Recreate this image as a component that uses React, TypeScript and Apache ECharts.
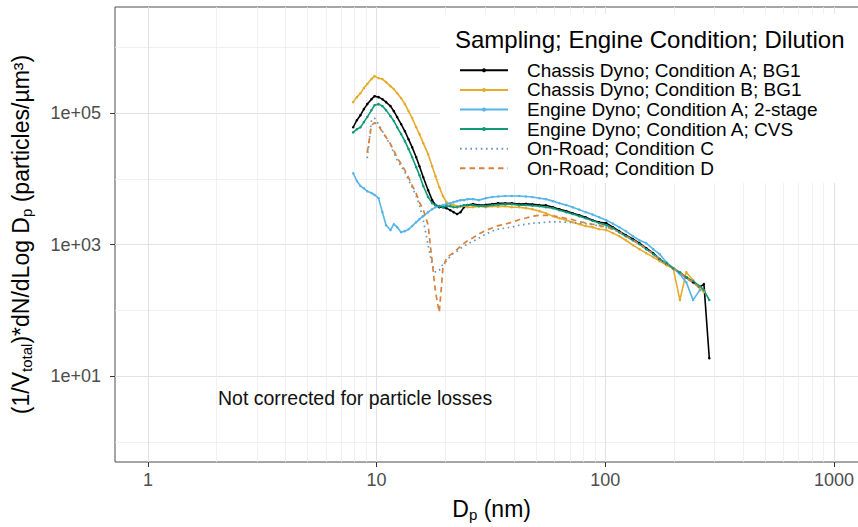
import React, { useEffect, useRef } from 'react';
import * as echarts from 'echarts';

// particle diameter bins (nm)
const diameters = [
  7.9, 8.2, 8.5, 8.8, 9.1, 9.5, 9.8, 10.2, 10.6, 11.0, 11.5, 11.9, 12.3, 12.8, 13.3, 13.8, 14.3, 14.9,
  15.4, 16.0, 16.8, 17.5, 18.1, 18.8, 19.5, 20.2, 21.0, 21.7, 22.5, 23.3, 24.1, 25.0, 26.4, 28.0, 30.0,
  32.0, 34.0, 36.5, 39.0, 42.0, 45.0, 48.0, 51.5, 55.0, 59.0, 63.0, 67.5, 72.0, 77.0, 82.0, 88.0, 94.0,
  101, 108, 115, 123, 132, 141, 151, 162, 173, 185, 198, 212, 226, 242, 259, 270, 285,
];

const chassisA = [
  61000, 78000, 93000, 115000, 137000, 163000, 181000, 175000, 163000, 147000, 128000, 107000, 87000,
  68000, 53000, 40000, 30400, 21400, 15600, 10600, 6750, 4760, 4000, 3720, 3720, 3600, 3350, 3130, 2920,
  3130, 3720, 4000, 4140, 4000, 4050, 4140, 4280, 4250, 4280, 4140, 4180, 4100, 4000, 3980, 3720, 3470,
  3240, 3020, 2810, 2620, 2360, 2200, 2130, 1850, 1610, 1400, 1220, 1060, 887, 745, 604, 507, 440, 370,
  321, 270, 226, 252, 18.9,
];

const chassisB = [
  147000, 175000, 201000, 240000, 276000, 329000, 365000, 340000, 329000, 296000, 257000, 232000, 201000,
  169000, 137000, 107000, 84000, 61000, 48000, 35000, 23800, 15600, 11000, 7500, 5500, 4440, 4140, 4000,
  3860, 3860, 3900, 3720, 3720, 3860, 3720, 3860, 3800, 3860, 3720, 3720, 3600, 3470, 3240, 3020, 2720,
  2530, 2360, 2200, 2050, 1920, 1850, 1720, 1670, 1500, 1350, 1170, 985, 856, 745, 647, 563, 489, 440,
  144, 383, 289, 219, 190, null,
];

const engine2Stage = [
  12200, 9300, 7800, 7200, 6500, 6100, 5700, 5100, 3130, 1980, 1670, 2050, 1850, 1550, 1610, 1720, 1920,
  2200, 2450, 2720, 3130, 3470, 3720, 3860, 4000, 4140, 4280, 4440, 4600, 4760, 4760, 4930, 4930, 4760,
  5100, 5300, 5400, 5500, 5500, 5500, 5400, 5300, 5100, 4930, 4600, 4280, 4000, 3720, 3410, 3130, 2870,
  2620, 2360, 2090, 1850, 1610, 1350, 1170, 1060, 856, 719, 543, 440, 357, 270, 144, 204, null, null,
];

const engineCVS = [
  51000, 57000, 61000, 73000, 87000, 111000, 132000, 137000, 128000, 111000, 90000, 76000, 61000, 48000,
  37500, 28400, 21400, 15100, 11400, 7800, 5300, 4280, 4000, 3860, 3720, 3860, 3860, 3720, 3720, 3860,
  4000, 4000, 4000, 3860, 3860, 4000, 4070, 4140, 4140, 4000, 4000, 3930, 3860, 3720, 3600, 3350, 3130,
  2920, 2720, 2530, 2320, 2130, 1980, 1790, 1550, 1350, 1170, 1020, 856, 719, 604, 525, 440, 383, 321,
  280, 235, 204, 144,
];

const onRoadC = [
  null, null, null, null, 20700, 78000, 84000, 68000, 53000, 43000, 32600, 24700, 19300, 15600, 12700,
  9600, 7500, 5500, 4000, 2360, 985, 489, 383, 411, 507, 563, 670, 745, 799, 887, 951, 1020, 1130, 1260,
  1450, 1610, 1720, 1790, 1850, 1980, 2050, 2130, 2150, 2200, 2230, 2230, 2200, 2170, 2130, 2090, 2020,
  1920, 1820, 1720, 1550, 1350, 1170, 1020, 856, 719, 604, 507, 440, 370, 310, 261, 219, null, null,
];

const onRoadD = [
  null, null, null, null, 25000, 65000, 72000, 64000, 52000, 43000, 34000, 27000, 21000, 17000, 13500,
  10500, 8000, 6000, 4400, 3400, 2000, 550, 190, 94, 440, 630, 700, 760, 850, 950, 1050, 1150, 1280,
  1450, 1650, 1800, 1950, 2050, 2200, 2400, 2550, 2700, 2800, 2800, 2750, 2650, 2500, 2400, 2250, 2150,
  2050, 1950, 1850, 1720, 1560, 1360, 1180, 1030, 870, 730, 610, 515, 445, 375, 315, 265, 222, null, null,
];

const seriesNames = [
  'Chassis Dyno; Condition A; BG1',
  'Chassis Dyno; Condition B; BG1',
  'Engine Dyno; Condition A; 2-stage',
  'Engine Dyno; Condition A; CVS',
  'On-Road; Condition C',
  'On-Road; Condition D',
];
const seriesValues = [chassisA, chassisB, engine2Stage, engineCVS, onRoadC, onRoadD];
const seriesColors = ['#000000', '#E6AA2C', '#56B4E9', '#12997A', '#6293C2', '#D9823B'];
const seriesLineTypes: any[] = ['solid', 'solid', 'solid', 'solid', [1.6, 3.6], [5.5, 4]];
const seriesHasPoints = [true, true, true, true, false, false];

const xMajorTicks = [1, 10, 100, 1000];
const xTickLabels = ['1', '10', '100', '1000'];
const xMinorTicks = [2, 3, 4, 5, 6, 7, 8, 9, 20, 30, 40, 50, 60, 70, 80, 90, 200, 300, 400, 500, 600, 700, 800, 900];
const yMajorTicks = [10, 1000, 100000];
const yTickLabels = ['1e+01', '1e+03', '1e+05'];
const yMinorTicks = [1, 100, 10000, 1000000];

const FONT = "'Liberation Sans', Arial, Helvetica, sans-serif";
const X_MIN = 0.718;
const X_MAX = 1413;
const Y_MIN = 0.499;
const Y_MAX = 4.1e6;

const pickLabel = (ticks: number[], labels: string[], v: number) => {
  const i = ticks.findIndex((t) => Math.abs(Math.log10(t) - Math.log10(v)) < 0.01);
  return i >= 0 ? labels[i] : '';
};

const subRich = {
  sub: { fontSize: 15, fontFamily: FONT, color: '#000', verticalAlign: 'bottom', lineHeight: 14 },
};

const App: React.FC = () => {
  const ref = useRef<HTMLDivElement>(null);

  useEffect(() => {
    if (!ref.current) return;
    const chart = echarts.init(ref.current, undefined, { renderer: 'svg' });

    chart.setOption({
      animation: false,
      textStyle: { fontFamily: FONT },
      grid: {
        left: 115,
        top: 7,
        right: -10.3,
        bottom: 65,
        show: true,
        borderColor: '#4d4d4d',
        borderWidth: 1,
        backgroundColor: 'transparent',
        containLabel: false,
        outerBoundsMode: 'none',
      },
      title: {
        text: 'Sampling; Engine Condition; Dilution',
        left: 455,
        top: 27,
        padding: 0,
        textStyle: { fontSize: 24, fontWeight: 'normal', color: '#000', fontFamily: FONT, lineHeight: 24 },
      },
      legend: {
        orient: 'vertical',
        left: 459,
        top: 60.5,
        padding: 0,
        itemWidth: 48,
        itemHeight: 5,
        itemGap: 0,
        data: seriesNames.map((name, k) =>
          seriesHasPoints[k] ? name : { name, itemStyle: { opacity: 0 } }
        ),
        formatter: (name: string) => `{gap| }${name}`,
        textStyle: {
          fontSize: 19,
          color: '#000',
          fontFamily: FONT,
          lineHeight: 19.6,
          rich: { gap: { width: 14 } },
        },
      },
      graphic: [
        {
          type: 'rect',
          z: 1,
          silent: true,
          shape: { x: 440, y: 14, width: 430, height: 169 },
          style: { fill: '#ffffff' },
        },
        {
          type: 'text',
          z: 5,
          x: 218,
          y: 398,
          style: {
            text: 'Not corrected for particle losses',
            fontSize: 19.5,
            fontFamily: FONT,
            fill: '#111',
            verticalAlign: 'middle',
          },
        },
      ],
      xAxis: [
        {
          type: 'log',
          logBase: 10,
          min: X_MIN,
          max: X_MAX,
          position: 'bottom',
          axisLine: { show: false },
          axisTick: { show: true, length: 5, lineStyle: { color: '#333', width: 1 }, customValues: xMajorTicks },
          axisLabel: {
            customValues: xMajorTicks,
            formatter: (v: number) => pickLabel(xMajorTicks, xTickLabels, v),
            fontSize: 18,
            color: '#4d4d4d',
            fontFamily: FONT,
            margin: 9,
          },
          splitLine: { show: true, lineStyle: { color: '#e2e2e2', width: 1 } },
          name: 'D{sub|p} (nm)',
          nameLocation: 'middle',
          nameGap: 34,
          nameTextStyle: { fontSize: 23, color: '#000', fontFamily: FONT, lineHeight: 26, rich: subRich },
        },
        {
          type: 'log',
          logBase: 10,
          min: X_MIN,
          max: X_MAX,
          position: 'bottom',
          axisLine: { show: false },
          axisTick: { show: false, customValues: xMinorTicks },
          axisLabel: { show: false },
          splitLine: { show: true, lineStyle: { color: '#ececec', width: 0.8 } },
        },
      ],
      yAxis: [
        {
          type: 'log',
          logBase: 10,
          min: Y_MIN,
          max: Y_MAX,
          position: 'left',
          axisLine: { show: false },
          axisTick: { show: true, length: 5, lineStyle: { color: '#333', width: 1 }, customValues: yMajorTicks },
          axisLabel: {
            customValues: yMajorTicks,
            formatter: (v: number) => pickLabel(yMajorTicks, yTickLabels, v),
            fontSize: 18,
            color: '#4d4d4d',
            fontFamily: FONT,
            margin: 14,
          },
          splitLine: { show: true, lineStyle: { color: '#e2e2e2', width: 1 } },
          name: '(1/V{sub|total})*dN/dLog D{sub|p} (particles/µm³)',
          nameLocation: 'middle',
          nameRotate: 90,
          nameGap: 81,
          nameTextStyle: { fontSize: 23, color: '#000', fontFamily: FONT, lineHeight: 26, rich: subRich },
        },
        {
          type: 'log',
          logBase: 10,
          min: Y_MIN,
          max: Y_MAX,
          position: 'left',
          axisLine: { show: false },
          axisTick: { show: false, customValues: yMinorTicks },
          axisLabel: { show: false },
          splitLine: { show: true, lineStyle: { color: '#ececec', width: 0.8 } },
        },
      ],
      series: seriesNames.map((name, k) => ({
        name,
        type: 'line',
        xAxisIndex: 0,
        yAxisIndex: 0,
        data: diameters
          .map((d, i) => [d, seriesValues[k][i]])
          .filter((p) => p[1] !== null),
        symbol: seriesHasPoints[k] ? 'circle' : 'none',
        symbolSize: 2.5,
        showSymbol: seriesHasPoints[k],
        lineStyle: { color: seriesColors[k], width: seriesHasPoints[k] ? 1.6 : 1.7, type: seriesLineTypes[k] },
        itemStyle: { color: seriesColors[k] },
        emphasis: { disabled: true },
        silent: true,
        z: 3,
      })),
    });

    return () => {
      chart.dispose();
    };
  }, []);

  return (
    <div
      ref={ref}
      style={{ position: 'fixed', left: 0, top: 0, width: 858, height: 527, background: '#fff' }}
    />
  );
};

export default App;
